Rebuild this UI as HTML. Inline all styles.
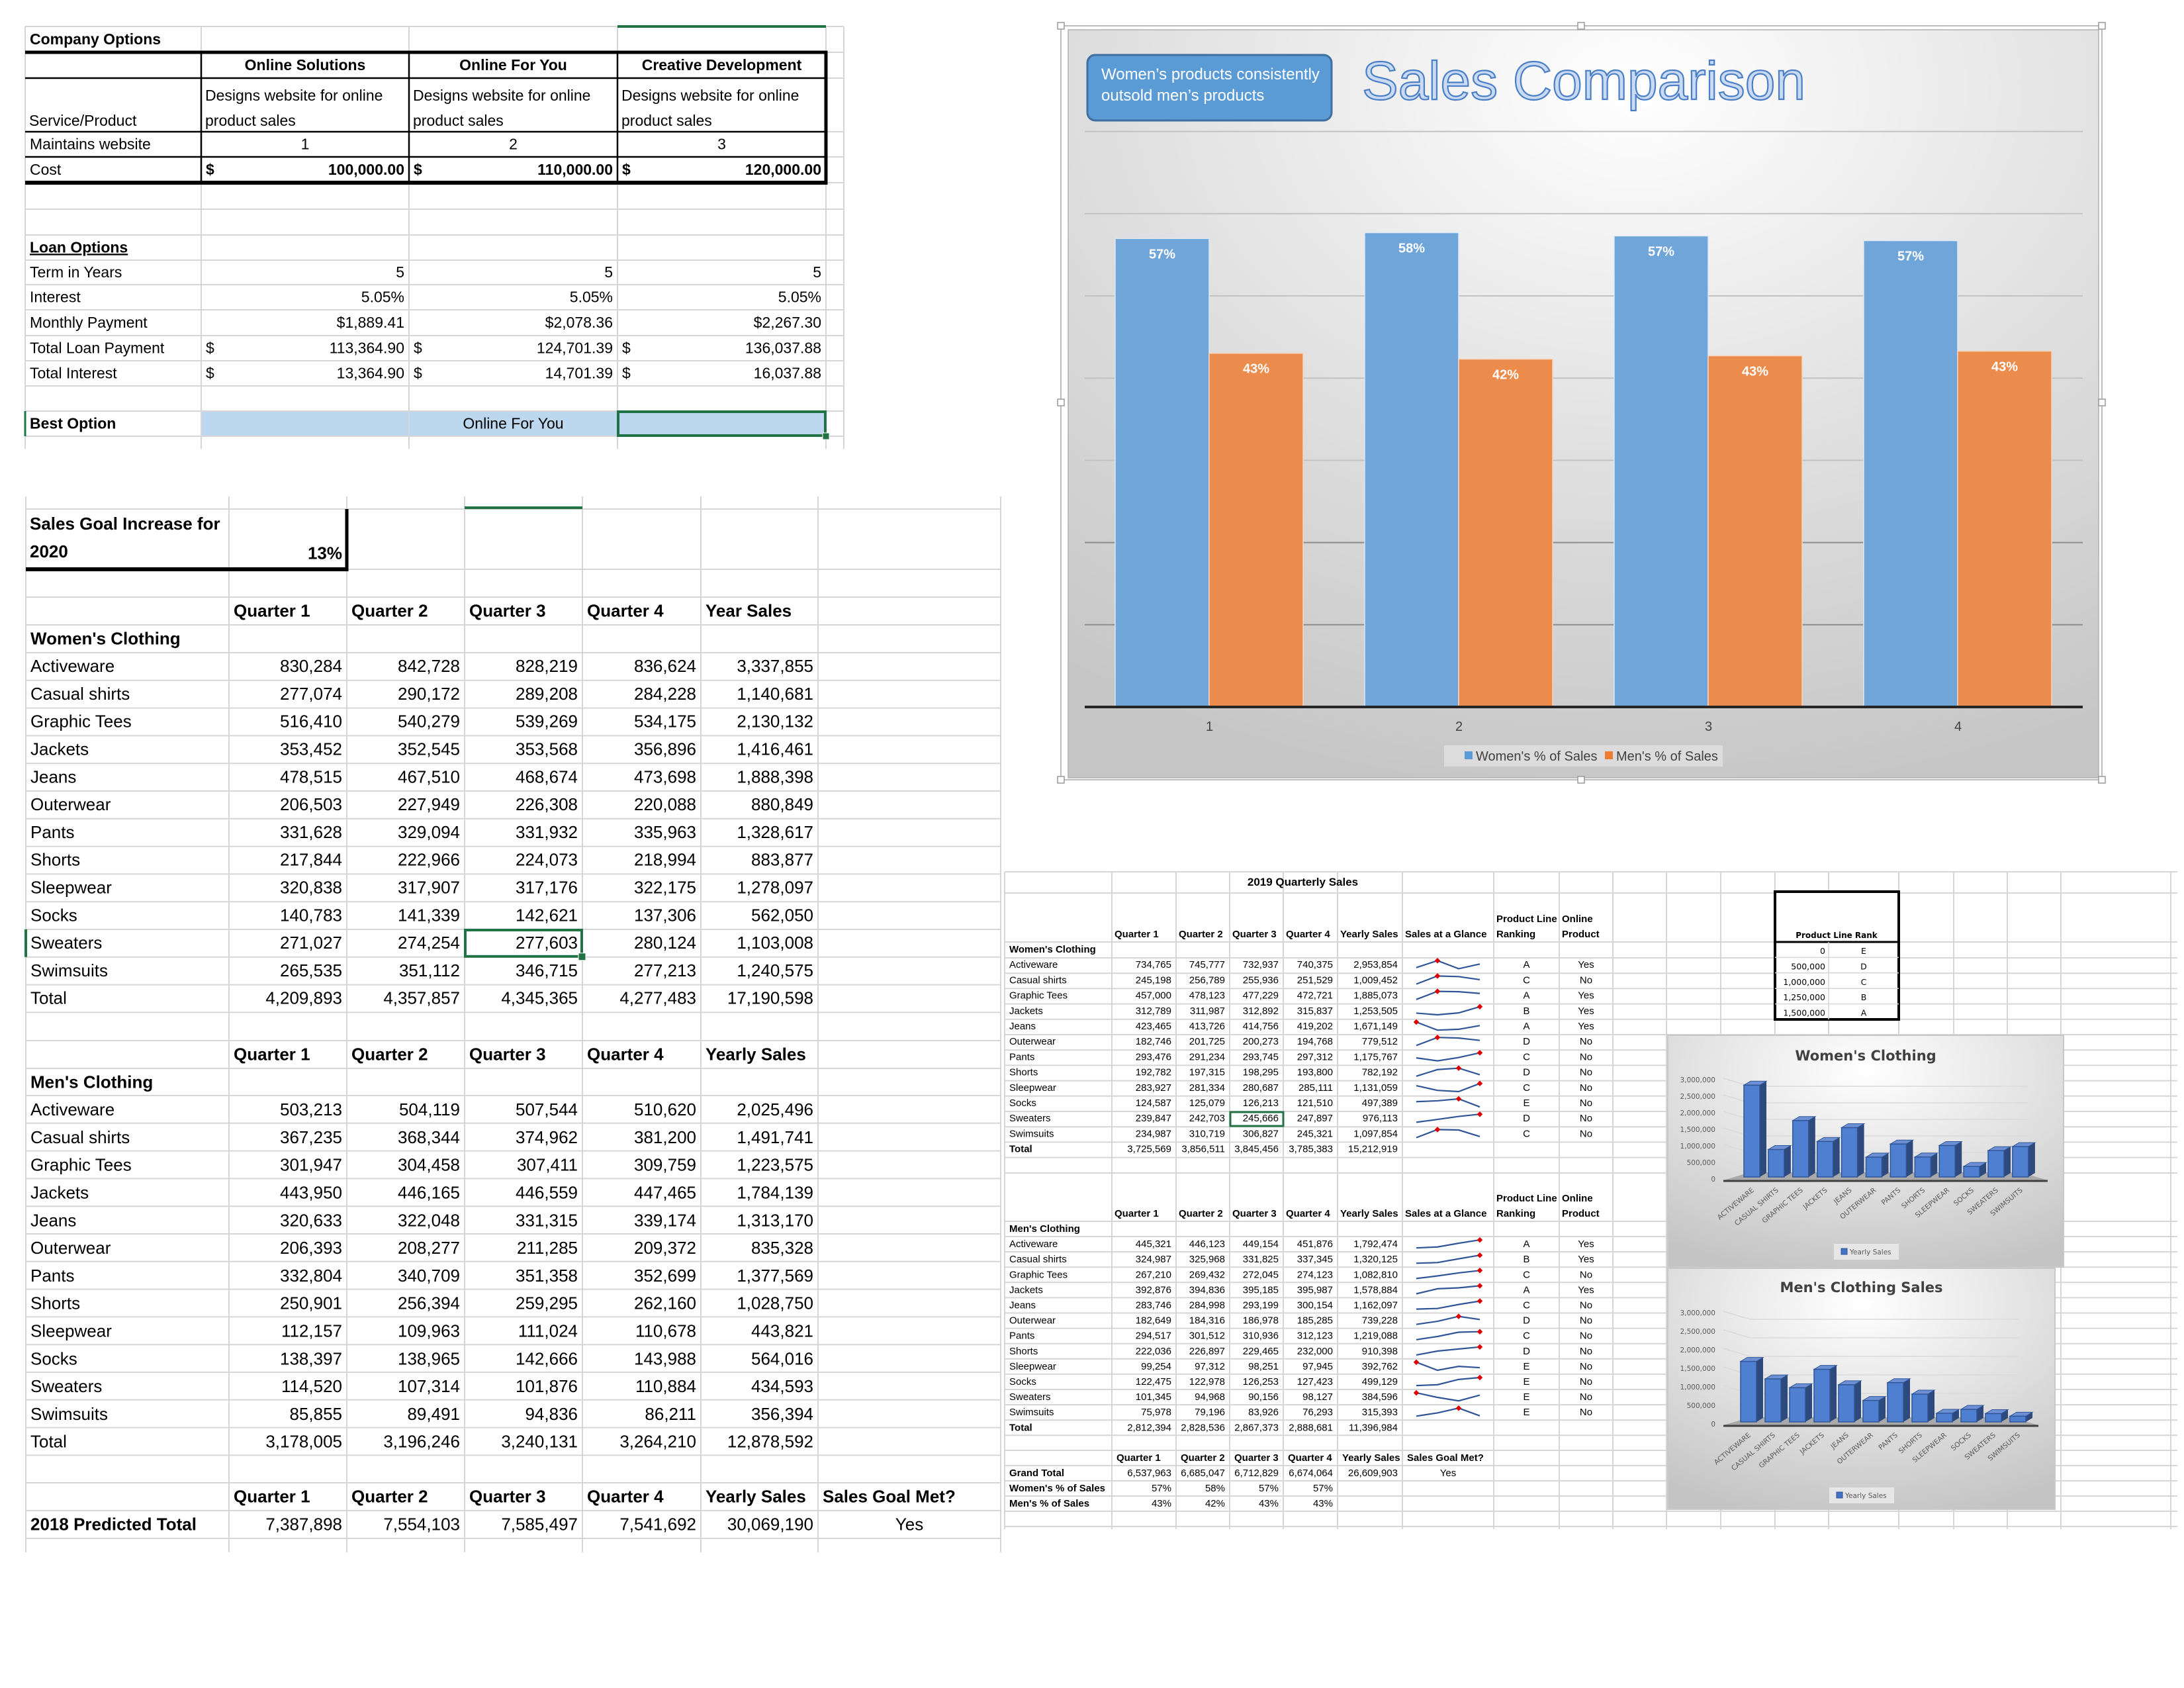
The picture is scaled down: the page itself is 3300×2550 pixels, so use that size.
<!DOCTYPE html>
<html><head><meta charset="utf-8">
<style>
html,body{margin:0;padding:0;background:#fff;}
svg{display:block;}
</style></head>
<body>
<svg id="page" xmlns="http://www.w3.org/2000/svg" width="3300" height="2550" viewBox="0 0 3300 2550">
<defs>
<radialGradient id="bgMain" cx="55%" cy="8%" r="95%"><stop offset="0" stop-color="#ffffff"/><stop offset="0.45" stop-color="#e4e4e4"/><stop offset="1" stop-color="#c6c6c6"/></radialGradient>
<radialGradient id="bgSmall" cx="50%" cy="15%" r="90%"><stop offset="0" stop-color="#ffffff"/><stop offset="0.5" stop-color="#e2e2e2"/><stop offset="1" stop-color="#c4c4c4"/></radialGradient>
</defs>
</svg>
<script>
// ---------- main chart data ----------
const mainCategories = ['1','2','3','4'];
const womenShare = [0.5698, 0.5769, 0.5729, 0.5672];
const menShare = [0.4302, 0.4231, 0.4271, 0.4328];
const womenShareLabels = ['57%','58%','57%','57%'];
const menShareLabels = ['43%','42%','43%','43%'];
const mainTicks = [0.1,0.2,0.3,0.4,0.5,0.6,0.7];

// ---------- product lines ----------
const productLines = ['Activeware','Casual shirts','Graphic Tees','Jackets','Jeans','Outerwear','Pants','Shorts','Sleepwear','Socks','Sweaters','Swimsuits'];
// 2020 projections (left sheet)
const w20Q1 = [830284,277074,516410,353452,478515,206503,331628,217844,320838,140783,271027,265535];
const w20Q2 = [842728,290172,540279,352545,467510,227949,329094,222966,317907,141339,274254,351112];
const w20Q3 = [828219,289208,539269,353568,468674,226308,331932,224073,317176,142621,277603,346715];
const w20Q4 = [836624,284228,534175,356896,473698,220088,335963,218994,322175,137306,280124,277213];
const w20Year = [3337855,1140681,2130132,1416461,1888398,880849,1328617,883877,1278097,562050,1103008,1240575];
const w20Total = [4209893,4357857,4345365,4277483,17190598];
const m20Q1 = [503213,367235,301947,443950,320633,206393,332804,250901,112157,138397,114520,85855];
const m20Q2 = [504119,368344,304458,446165,322048,208277,340709,256394,109963,138965,107314,89491];
const m20Q3 = [507544,374962,307411,446559,331315,211285,351358,259295,111024,142666,101876,94836];
const m20Q4 = [510620,381200,309759,447465,339174,209372,352699,262160,110678,143988,110884,86211];
const m20Year = [2025496,1491741,1223575,1784139,1313170,835328,1377569,1028750,443821,564016,434593,356394];
const m20Total = [3178005,3196246,3240131,3264210,12878592];
const predictedTotal = [7387898,7554103,7585497,7541692,30069190];
// 2019 quarterly sales (right sheet)
const w19Q1 = [734765,245198,457000,312789,423465,182746,293476,192782,283927,124587,239847,234987];
const w19Q2 = [745777,256789,478123,311987,413726,201725,291234,197315,281334,125079,242703,310719];
const w19Q3 = [732937,255936,477229,312892,414756,200273,293745,198295,280687,126213,245666,306827];
const w19Q4 = [740375,251529,472721,315837,419202,194768,297312,193800,285111,121510,247897,245321];
const w19Year = [2953854,1009452,1885073,1253505,1671149,779512,1175767,782192,1131059,497389,976113,1097854];
const w19Rank = ['A','C','A','B','A','D','C','D','C','E','D','C'];
const w19Online = ['Yes','No','Yes','Yes','Yes','No','No','No','No','No','No','No'];
const w19Total = [3725569,3856511,3845456,3785383,15212919];
const m19Q1 = [445321,324987,267210,392876,283746,182649,294517,222036,99254,122475,101345,75978];
const m19Q2 = [446123,325968,269432,394836,284998,184316,301512,226897,97312,122978,94968,79196];
const m19Q3 = [449154,331825,272045,395185,293199,186978,310936,229465,98251,126253,90156,83926];
const m19Q4 = [451876,337345,274123,395987,300154,185285,312123,232000,97945,127423,98127,76293];
const m19Year = [1792474,1320125,1082810,1578884,1162097,739228,1219088,910398,392762,499129,384596,315393];
const m19Rank = ['A','B','C','A','C','D','C','D','E','E','E','E'];
const m19Online = ['Yes','Yes','No','Yes','No','No','No','No','No','No','No','No'];
const m19Total = [2812394,2828536,2867373,2888681,11396984];
const grandTotal = [6537963,6685047,6712829,6674064,26609903];
const rankThresholds = [0,500000,1000000,1250000,1500000];
const rankLetters = ['E','D','C','B','A'];
const barTickValues = [0,500000,1000000,1500000,2000000,2500000,3000000];

// ---------- helpers ----------
const NS='http://www.w3.org/2000/svg';
const svg=document.getElementById('page');
const CAL='"Liberation Sans Narrow","Liberation Sans",sans-serif';
const fmt=n=>n.toLocaleString('en-US');
function el(tag, attrs, name, parent){
  const e=document.createElementNS(NS,tag);
  for(const k in attrs) e.setAttribute(k,attrs[k]);
  
  
  (parent||svg).appendChild(e);
  return e;
}
function line(x1,y1,x2,y2,color,w,name){return el('line',{x1,y1,x2,y2,stroke:color,'stroke-width':w},name||'grid-line');}
function text(x,y,s,o,name){
  o=o||{};
  const t=el('text',{x,y,'font-size':o.size||24,'font-family':o.family||CAL,'text-anchor':o.anchor||'start',fill:o.fill||'#000','font-weight':o.bold?'bold':'normal'},name||'cell-text');
  if(o.underline) t.setAttribute('text-decoration','underline');
  if(o.transform) t.setAttribute('transform',o.transform);
  t.textContent=s; return t;
}
function cell(x1,x2,y1,y2,s,align,size,bold,name){
  const pad=7;
  const x=align==='left'?x1+pad:align==='right'?x2-pad:(x1+x2)/2;
  const y=y2-(y2-y1-size*0.72)/2-1;
  return text(x,y,s,{size,bold,anchor:align==='left'?'start':align==='right'?'end':'middle'},name);
}
const GRID='#d6d6d6';

// ================= TABLE 1: company / loan options =================
const t1Rows=[40,79,118,199,237,276,316,355,393,430,468,507,545,583,621,659];
const t1Cols=[38,304,618,933,1248,1275];
el('rect',{x:304,y:621,width:944,height:38,fill:'#bdd7ee'},'best-option-fill');
t1Rows.forEach(y=>line(38,y,1275,y,GRID,2,'t1-gridline'));
t1Cols.forEach(x=>line(x,40,x,678,GRID,2,'t1-gridline'));
line(38,79,1250,79,'#000',5,'t1-border'); line(38,276,1250,276,'#000',6,'t1-border');
line(1248,77,1248,279,'#000',5,'t1-border');
[118,199,237].forEach(y=>line(38,y,1248,y,'#000',2.5,'t1-border'));
[304,618,933].forEach(x=>line(x,79,x,276,'#000',2.5,'t1-border'));
line(933,40,1248,40,'#217346',4,'selection-col-top');
line(38,621,38,659,'#217346',3,'selection-row-mark');
el('rect',{x:934,y:622,width:313,height:36,fill:'none',stroke:'#217346','stroke-width':4},'selected-cell');
el('rect',{x:1243,y:654,width:10,height:10,fill:'#217346',stroke:'#fff','stroke-width':1},'fill-handle');
const F1=23;
cell(38,304,40,79,'Company Options','left',F1,true);
['Online Solutions','Online For You','Creative Development'].forEach((s,i)=>cell(t1Cols[i+1],t1Cols[i+2],79,118,s,'center',F1,true,'vendor-header'));
for(let i=0;i<3;i++){
  text(t1Cols[i+1]+6,152,'Designs website for online',{size:F1});
  text(t1Cols[i+1]+6,190,'product sales',{size:F1});
  cell(t1Cols[i+1],t1Cols[i+2],199,237,String(i+1),'center',F1,false);
  cell(t1Cols[i+1],t1Cols[i+2],237,276,'$','left',F1,true);
  cell(t1Cols[i+1],t1Cols[i+2],237,276,['100,000.00','110,000.00','120,000.00'][i],'right',F1,true);
}
text(44,190,'Service/Product',{size:F1});
cell(38,304,199,237,'Maintains website','left',F1,false);
cell(38,304,237,276,'Cost','left',F1,false);
cell(38,304,355,393,'Loan Options','left',F1,true,'loan-options-title').setAttribute('text-decoration','underline');
const loanLabels=['Term in Years','Interest','Monthly Payment','Total Loan Payment','Total Interest'];
const loanVals=[['5','5','5'],['5.05%','5.05%','5.05%'],['$1,889.41','$2,078.36','$2,267.30'],['113,364.90','124,701.39','136,037.88'],['13,364.90','14,701.39','16,037.88']];
loanLabels.forEach((l,r)=>{
  const y1=t1Rows[8+r],y2=t1Rows[9+r];
  cell(38,304,y1,y2,l,'left',F1,false);
  for(let c=0;c<3;c++){
    cell(t1Cols[c+1],t1Cols[c+2],y1,y2,loanVals[r][c],'right',F1,false);
    if(r>=3) cell(t1Cols[c+1],t1Cols[c+2],y1,y2,'$','left',F1,false);
  }
});
cell(38,304,621,659,'Best Option','left',F1,true);
cell(618,933,621,659,'Online For You','center',F1,false,'best-option-value');

// ================= TABLE 2: 2020 sales goal =================
const RH=41.8;
const t2Cols=[39,346,524,702,880,1059,1236,1512];
const t2Rows=[769,860,902,944];
for(let k=0;k<=13;k++) t2Rows.push(986+k*RH);
t2Rows.push(1572,1614);
for(let k=0;k<=13;k++) t2Rows.push(1655+k*RH);
t2Rows.push(2240,2282,2324);
t2Rows.forEach(y=>line(39,y,1512,y,GRID,2,'t2-gridline'));
t2Cols.forEach(x=>line(x,750,x,2345,GRID,2,'t2-gridline'));
line(39,860,526,860,'#000',6,'goal-border'); line(524,769,524,863,'#000',5,'goal-border');
line(702,767,880,767,'#217346',4,'selection-col-top');
const F2=26;
text(45,800,'Sales Goal Increase for',{size:F2,bold:true});
text(45,842,'2020',{size:F2,bold:true});
cell(346,524,812,860,'13%','right',F2,true,'goal-percent');
const qHead=['Quarter 1','Quarter 2','Quarter 3','Quarter 4'];
function qHeader(y1,y2,last,extra){
  qHead.concat([last]).forEach((s,i)=>cell(t2Cols[i+1],t2Cols[i+2],y1,y2,s,'left',F2,true,'column-header'));
  if(extra) cell(t2Cols[6],t2Cols[7],y1,y2,extra,'left',F2,true,'column-header');
}
function block(startY,title,q1,q2,q3,q4,yr,tot){
  cell(39,346,startY,startY+RH,title,'left',F2,true,'section-title');
  productLines.forEach((p,i)=>{
    const y1=startY+RH*(i+1),y2=y1+RH;
    cell(39,346,y1,y2,p,'left',F2,false,'row-label');
    [q1[i],q2[i],q3[i],q4[i],yr[i]].forEach((v,c)=>cell(t2Cols[c+1],t2Cols[c+2],y1,y2,fmt(v),'right',F2,false,'value-cell'));
  });
  const y1=startY+RH*13;
  cell(39,346,y1,y1+RH,'Total','left',F2,false,'row-label');
  tot.forEach((v,c)=>cell(t2Cols[c+1],t2Cols[c+2],y1,y1+RH,fmt(v),'right',F2,false,'total-cell'));
}
qHeader(902,944,'Year Sales');
block(944,"Women's Clothing",w20Q1,w20Q2,w20Q3,w20Q4,w20Year,w20Total);
qHeader(1572,1614,'Yearly Sales');
block(1614,"Men's Clothing",m20Q1,m20Q2,m20Q3,m20Q4,m20Year,m20Total);
qHeader(2240,2282,'Yearly Sales','Sales Goal Met?');
cell(39,346,2282,2324,'2018 Predicted Total','left',F2,true);
predictedTotal.forEach((v,c)=>cell(t2Cols[c+1],t2Cols[c+2],2282,2324,fmt(v),'right',F2,false,'predicted-cell'));
cell(1236,1512,2282,2324,'Yes','center',F2,false,'goal-met-value');
const swY=986+10*RH;
el('rect',{x:703,y:swY+1,width:176,height:RH-2,fill:'none',stroke:'#217346','stroke-width':4},'selected-cell');
el('rect',{x:874,y:swY+RH-6,width:11,height:11,fill:'#217346',stroke:'#fff','stroke-width':1},'fill-handle');
line(39,swY,39,swY+RH,'#217346',4,'selection-row-mark');

// ================= SMALL TABLE: 2019 quarterly sales =================
const sCols=[1518,1680,1777,1858,1939,2021,2119,2257,2356,2437,2518,2600,2682,2763,2869,2952,3033,3114,3280];
const sRows=[1317,1349,1423];
for(let k=0;k<=13;k++) sRows.push(1447+k*23.2);
sRows.push(1772,1845);
for(let k=0;k<=13;k++) sRows.push(1868+k*23.1);
sRows.push(2191,2214,2237,2260,2283,2306);
sRows.forEach(y=>line(1518,y,3290,y,GRID,2,'s-gridline'));
sCols.forEach(x=>line(x,1317,x,2310,GRID,2,'s-gridline'));
const F3=15;
cell(1680,2257,1317,1349,'2019 Quarterly Sales','center',17,true,'sheet-title');
function sHeader(y2){
  qHead.concat(['Yearly Sales','Sales at a Glance']).forEach((s,i)=>text(sCols[i+1]+4,y2-7,s,{size:F3,bold:true},'column-header'));
  text(2261,y2-7,'Ranking',{size:F3,bold:true}); text(2261,y2-30,'Product Line',{size:F3,bold:true});
  text(2360,y2-7,'Product',{size:F3,bold:true}); text(2360,y2-30,'Online',{size:F3,bold:true});
}
function spark(x1,x2,y1,y2,vals){
  const mn=Math.min(...vals),mx=Math.max(...vals);
  const px=i=>x1+i*(x2-x1)/3, py=v=>y2-(v-mn)/(mx-mn||1)*(y2-y1);
  el('polyline',{points:vals.map((v,i)=>px(i)+','+py(v)).join(' '),fill:'none',stroke:'#2f5597','stroke-width':2.2},'sparkline');
  const mi=vals.indexOf(mx);
  el('rect',{x:px(mi)-3,y:py(mx)-3,width:6,height:6,fill:'#e00000',transform:`rotate(45 ${px(mi)} ${py(mx)})`},'sparkline-high-marker');
}
function sBlock(startY,rh,title,q1,q2,q3,q4,yr,rk,on,tot){
  cell(1518,1680,startY,startY+rh,title,'left',F3,true,'section-title');
  productLines.forEach((p,i)=>{
    const y1=startY+rh*(i+1),y2=y1+rh;
    cell(1518,1680,y1,y2,p,'left',F3,false,'row-label');
    [q1[i],q2[i],q3[i],q4[i],yr[i]].forEach((v,c)=>cell(sCols[c+1],sCols[c+2],y1,y2,fmt(v),'right',F3,false,'value-cell'));
    spark(2140,2236,y1+5,y2-6,[q1[i],q2[i],q3[i],q4[i]]);
    cell(2257,2356,y1,y2,rk[i],'center',F3,false,'rank-cell');
    cell(2356,2437,y1,y2,on[i],'center',F3,false,'online-cell');
  });
  const y1=startY+rh*13;
  cell(1518,1680,y1,y1+rh,'Total','left',F3,true,'row-label');
  tot.forEach((v,c)=>cell(sCols[c+1],sCols[c+2],y1,y1+rh,fmt(v),'right',F3,false,'total-cell'));
}
sHeader(1423);
sBlock(1423,23.2,"Women's Clothing",w19Q1,w19Q2,w19Q3,w19Q4,w19Year,w19Rank,w19Online,w19Total);
sHeader(1845);
sBlock(1845,23.1,"Men's Clothing",m19Q1,m19Q2,m19Q3,m19Q4,m19Year,m19Rank,m19Online,m19Total);
qHead.concat(['Yearly Sales','Sales Goal Met?']).forEach((s,i)=>cell(sCols[i+1],sCols[i+2],2191,2214,s,'left',F3,true,'column-header'));
cell(1518,1680,2214,2237,'Grand Total','left',F3,true);
grandTotal.forEach((v,c)=>cell(sCols[c+1],sCols[c+2],2214,2237,fmt(v),'right',F3,false,'grand-total-cell'));
cell(2119,2257,2214,2237,'Yes','center',F3,false,'goal-met-value');
cell(1518,1680,2237,2260,"Women's % of Sales",'left',F3,true);
cell(1518,1680,2260,2283,"Men's % of Sales",'left',F3,true);
womenShareLabels.forEach((s,c)=>cell(sCols[c+1],sCols[c+2],2237,2260,s,'right',F3,false,'women-pct-cell'));
menShareLabels.forEach((s,c)=>cell(sCols[c+1],sCols[c+2],2260,2283,s,'right',F3,false,'men-pct-cell'));
const sw2=1447+10*23.2;
el('rect',{x:1859,y:sw2+1,width:80,height:21,fill:'none',stroke:'#217346','stroke-width':3},'selected-cell');

el('rect',{x:2682,y:1347,width:187,height:193,fill:'#fff',stroke:'#000','stroke-width':4},'rank-table');
line(2682,1423,2869,1423,'#000',3,'rank-border');
for(let k=1;k<5;k++) line(2682,1423+k*23.4,2869,1423+k*23.4,GRID,1.5,'rank-gridline');
line(2763,1423,2763,1540,GRID,1.5,'rank-gridline');
text(2775,1417,'Product Line Rank',{size:12,bold:true,anchor:'middle',family:'"DejaVu Sans",sans-serif'},'rank-title');
rankThresholds.forEach((v,i)=>{
  text(2758,1441+i*23.4,fmt(v),{size:12.5,anchor:'end',family:'"DejaVu Sans",sans-serif'},'rank-threshold');
  text(2816,1441+i*23.4,rankLetters[i],{size:12.5,anchor:'middle',family:'"DejaVu Sans",sans-serif'},'rank-letter');
});

// ================= 3D bar charts =================
function barChart(o){
  el('rect',{x:o.x,y:o.y,width:o.w,height:o.h,fill:'url(#bgSmall)',stroke:'#c8c8c8','stroke-width':2},o.key+'-chart-area');
  text(o.x+o.w/2,o.titleY,o.title,{size:21,bold:true,anchor:'middle',fill:'#404040',family:'"DejaVu Sans",sans-serif'},o.key+'-chart-title');
  const ys=v=>o.base-v/3000000*o.span;
  barTickValues.forEach(v=>{
    if(v>0) el('polyline',{points:`${o.pl},${ys(v)-2} ${o.pl+40},${ys(v)+10} ${o.pr-30},${ys(v)+10}`,fill:'none',stroke:'#dadada','stroke-width':1.5},'chart-gridline');
    text(o.pl-12,ys(v)+4,fmt(v),{size:10.5,anchor:'end',fill:'#595959',family:'"DejaVu Sans",sans-serif'},'y-tick-label');
  });
  el('polygon',{points:`${o.pl},${o.base+2} ${o.pr},${o.base+2} ${o.pr-40},${o.base-10} ${o.pl+40},${o.base-10}`,fill:'#a9a9a9'},'chart-floor');
  line(o.pl,o.base+3,o.pr,o.base+3,'#404040',3,'x-axis-line');
  o.vals.forEach((v,i)=>{
    const c=o.c0+i*o.step, top=ys(v)+6, b=o.base-3;
    el('polygon',{points:`${c+12},${top} ${c+22},${top-6} ${c+22},${b-6} ${c+12},${b}`,fill:'#2e4a7d'},'bar-side');
    el('polygon',{points:`${c-12},${top} ${c-2},${top-6} ${c+22},${top-6} ${c+12},${top}`,fill:'#6d90d4',stroke:'#2f5597','stroke-width':1},'bar-top');
    el('rect',{x:c-12,y:top,width:24,height:b-top,fill:'#4f7fd0',stroke:'#2f5597','stroke-width':1.5},'bar-'+productLines[i].toLowerCase().replace(' ','-'));
    text(c+4,o.base+18,productLines[i].toUpperCase(),{size:10.5,anchor:'end',fill:'#595959',family:'"DejaVu Sans",sans-serif',transform:`rotate(-40 ${c+4} ${o.base+18})`},'x-tick-label');
  });
  el('rect',{x:o.legX,y:o.legY,width:98,height:24,fill:'#e6e6e6'},'legend');
  el('rect',{x:o.legX+11,y:o.legY+7,width:9,height:9,fill:'#4472c4',stroke:'#2f5597','stroke-width':1},'legend-marker');
  text(o.legX+24,o.legY+16,'Yearly Sales',{size:10.5,fill:'#595959',family:'"DejaVu Sans",sans-serif'},'legend-entry');
}
barChart({key:'women',x:2520,y:1564,w:598,h:350,title:"Women's Clothing",titleY:1602,base:1781,span:150,pl:2604,pr:3094,c0:2647,step:36.9,vals:w19Year,legX:2771,legY:1879});
barChart({key:'men',x:2520,y:1916,w:585,h:364,title:"Men's Clothing Sales",titleY:1952,base:2151,span:168,pl:2604,pr:3080,c0:2642,step:37,vals:m19Year,legX:2764,legY:2247});

// ================= MAIN CHART: Sales Comparison =================
el('rect',{x:1603,y:39,width:1573,height:1139,fill:'#fff',stroke:'#bdbdbd','stroke-width':2},'chart-frame');
el('rect',{x:1614,y:45,width:1557,height:1130,fill:'url(#bgMain)',stroke:'#b0b0b0','stroke-width':1.5},'sales-comparison-chart');
[[1603,39],[2389,39],[3176,39],[1603,608],[3176,608],[1603,1178],[2389,1178],[3176,1178]].forEach(p=>el('rect',{x:p[0]-5,y:p[1]-5,width:10,height:10,fill:'#fff',stroke:'#999','stroke-width':1.5},'resize-handle'));
const plotL=1639,plotR=3147,base=1068;
const yMain=v=>base-v*1242;
mainTicks.forEach(v=>line(plotL,yMain(v),plotR,yMain(v),v<=0.2?'#8c8c8c':'#c2c2c2',2,'main-gridline'));
const gW=(plotR-plotL)/mainCategories.length;
mainCategories.forEach((c,i)=>{
  const gx=plotL+i*gW;
  const wTop=yMain(womenShare[i]), mTop=yMain(menShare[i]);
  el('rect',{x:gx+46,y:wTop,width:142,height:base-wTop,fill:'#6fa5d9',stroke:'#dbe8f5','stroke-width':1.5},'bar-women-q'+c);
  el('rect',{x:gx+188,y:mTop,width:142,height:base-mTop,fill:'#ec8c4c',stroke:'#f6d3bb','stroke-width':1.5},'bar-men-q'+c);
  text(gx+117,wTop+30,womenShareLabels[i],{size:20,bold:true,anchor:'middle',fill:'#fff'},'data-label-women');
  text(gx+259,mTop+30,menShareLabels[i],{size:20,bold:true,anchor:'middle',fill:'#fff'},'data-label-men');
  text(gx+gW/2,1104,c,{size:20,anchor:'middle',fill:'#404040'},'x-category-label');
});
line(plotL,base,plotR,base,'#262626',4,'main-x-axis');
el('rect',{x:2182,y:1126,width:421,height:32,fill:'#dcdcdc'},'main-legend');
el('rect',{x:2213,y:1135,width:12,height:12,fill:'#5b9bd5'},'legend-marker-women');
text(2230,1149,"Women's % of Sales",{size:20,fill:'#404040'},'legend-entry-women');
el('rect',{x:2425,y:1135,width:12,height:12,fill:'#ed7d31'},'legend-marker-men');
text(2442,1149,"Men's % of Sales",{size:20,fill:'#404040'},'legend-entry-men');
el('rect',{x:1643,y:83,width:369,height:99,rx:12,fill:'#5b9bd5',stroke:'#3f6fa0','stroke-width':3},'callout-box');
text(1664,120,"Women’s products consistently",{size:24,fill:'#fff'},'callout-text');
text(1664,152,"outsold men’s products",{size:24,fill:'#fff'},'callout-text');
const ttl=text(2058,150,'Sales Comparison',{size:82,fill:'#c9daf2'},'chart-title');
ttl.setAttribute('stroke','#4a7fc7'); ttl.setAttribute('stroke-width','2.2');
</script>
</body></html>
